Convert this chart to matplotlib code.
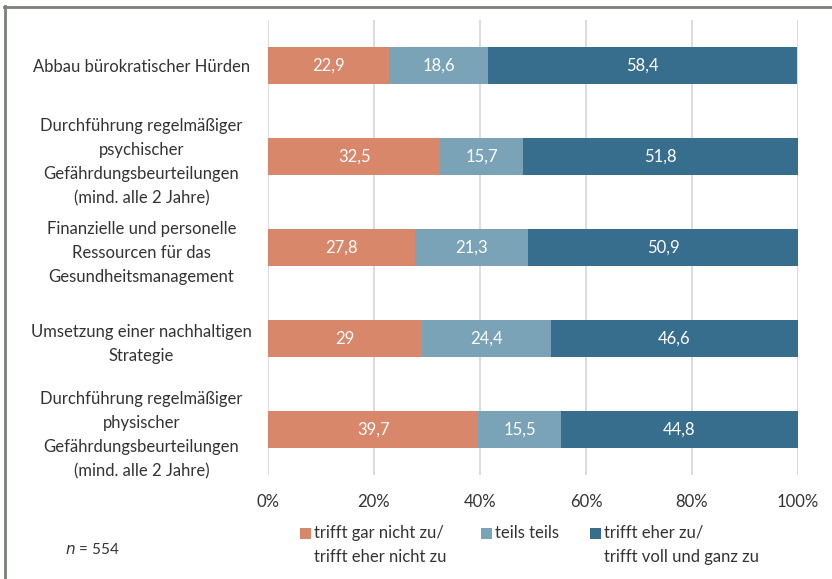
import matplotlib.pyplot as plt
from matplotlib.lines import Line2D
from matplotlib.patches import Rectangle

# Daten
categories = [
    "Abbau bürokratischer Hürden",
    "Durchführung regelmäßiger\npsychischer\nGefährdungsbeurteilungen\n(mind. alle 2 Jahre)",
    "Finanzielle und personelle\nRessourcen für das\nGesundheitsmanagement",
    "Umsetzung einer nachhaltigen\nStrategie",
    "Durchführung regelmäßiger\nphysischer\nGefährdungsbeurteilungen\n(mind. alle 2 Jahre)",
]
nicht_zu = [22.9, 32.5, 27.8, 29, 39.7]
teils = [18.6, 15.7, 21.3, 24.4, 15.5]
eher_zu = [58.4, 51.8, 50.9, 46.6, 44.8]
series_labels = ["trifft gar nicht zu/\ntrifft eher nicht zu", "teils teils",
                 "trifft eher zu/\ntrifft voll und ganz zu"]
colors = ["#D9876B", "#7BA3B8", "#376D8D"]
xticks = [0, 20, 40, 60, 80, 100]
n_text = "554"

plt.rcParams['font.family'] = ['Lato', 'DejaVu Sans']
text_col = "#333333"

fig = plt.figure(figsize=(8.32, 5.79), dpi=100)
W, H = 832, 579
ax = fig.add_axes([268 / W, 1 - 475 / H, (798 - 268) / W, (475 - 20) / H])

y = list(range(len(categories)))
left = [0] * len(categories)
for vals, col in zip([nicht_zu, teils, eher_zu], colors):
    bars = ax.barh(y, vals, left=left, height=0.4, color=col, zorder=3)
    for b, v in zip(bars, vals):
        txt = ("%g" % v).replace(".", ",")
        ax.text(b.get_x() + b.get_width() / 2, b.get_y() + b.get_height() / 2, txt,
                ha="center", va="center", color="white", fontsize=12, zorder=4)
    left = [l + v for l, v in zip(left, vals)]

ax.set_xlim(0, 100)
ax.set_ylim(4.5, -0.5)
ax.set_xticks(xticks)
ax.set_xticklabels(["%d%%" % t for t in xticks], fontsize=12, color=text_col)
ax.set_yticks(y)
ax.set_yticklabels(categories, fontsize=12, color=text_col, ha="center",
                   linespacing=1.62)
ax.tick_params(axis="y", length=0, pad=91)
ax.tick_params(axis="x", length=0, pad=14)
ax.grid(axis="x", color="#D9D9D9", linewidth=1.3, zorder=0)
for s in ax.spines.values():
    s.set_visible(False)

# Legende (manuell, damit Marker an der ersten Zeile stehen)
leg_x = [300, 481, 590]
for lx, lab, col in zip(leg_x, series_labels, colors):
    fig.add_artist(Rectangle((lx / W, 1 - 539 / H), 11 / W, 11 / H,
                             facecolor=col, edgecolor="none", transform=fig.transFigure))
    fig.text((lx + 14) / W, 1 - 525 / H, lab, fontsize=12, color=text_col,
             va="top", ha="left", linespacing=1.62)

fig.text(65 / W, 1 - 550 / H, "$n$ = " + n_text, fontsize=11, color=text_col, va="center")

# Rahmen
fig.add_artist(Line2D([4 / W, 1], [1 - 6.5 / H, 1 - 6.5 / H], color="#7A807A", linewidth=2))
fig.add_artist(Line2D([4.5 / W, 4.5 / W], [0, 1 - 6 / H], color="#7A807A", linewidth=2))

fig.savefig("out.png", dpi=100)
